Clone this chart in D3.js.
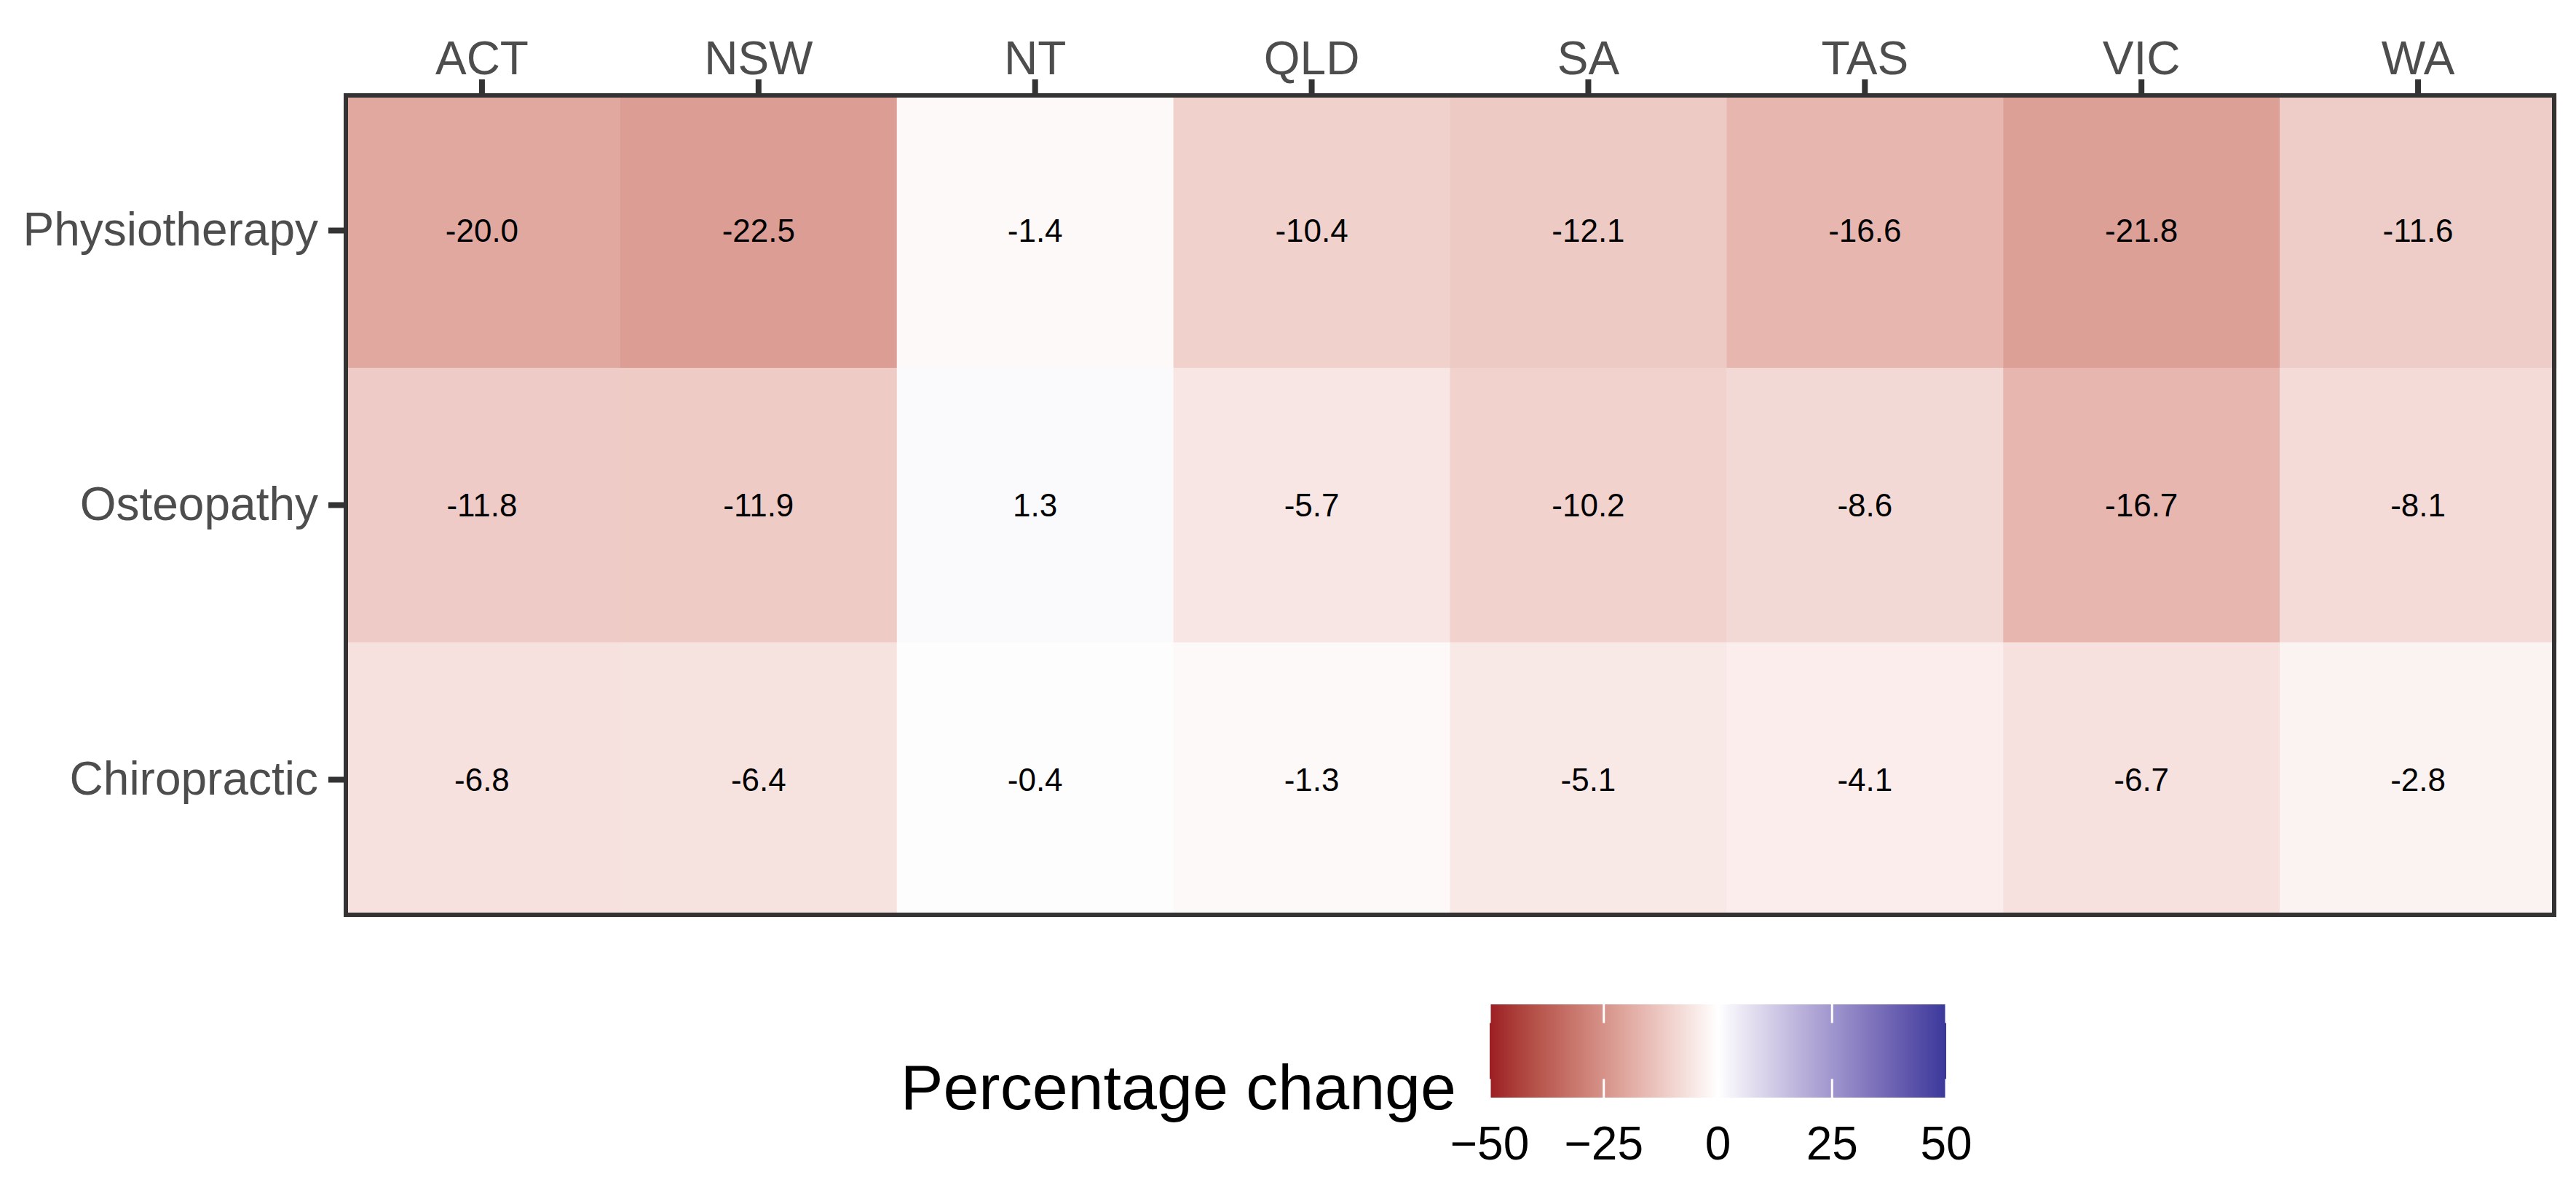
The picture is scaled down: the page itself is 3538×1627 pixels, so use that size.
<!DOCTYPE html>
<html lang="en">
<head>
  <meta charset="UTF-8">
  <title>heatmap</title>
  <script src="https://d3js.org/d3.v7.min.js" charset="utf-8"></script>
  <style>
    body { margin: 0; background: #fff; }
    text { font-family: "Liberation Sans", Arial, sans-serif; }
  </style>
</head>
<body>
</body>
<script>
  var states = ['ACT', 'NSW', 'NT', 'QLD', 'SA', 'TAS', 'VIC', 'WA']
  var professions = ['Physiotherapy', 'Osteopathy', 'Chiropractic']
  var physiotherapy = [-20.0, -22.5, -1.4, -10.4, -12.1, -16.6, -21.8, -11.6]
  var osteopathy = [-11.8, -11.9, 1.3, -5.7, -10.2, -8.6, -16.7, -8.1]
  var chiropractic = [-6.8, -6.4, -0.4, -1.3, -5.1, -4.1, -6.7, -2.8]
  var legendBreaks = [-50, -25, 0, 25, 50]
  var legendTitle = 'Percentage change'

  var series = [physiotherapy, osteopathy, chiropractic]
  var cells = []
  professions.forEach(function(p, i) {
    states.forEach(function(s, j) {
      cells.push({ state: s, profession: p, value: series[i][j] })
    })
  })

  var W = 3538, H = 1627
  var pLeft = 472, pRight = 3511, pTop = 128, pBottom = 1259

  var svg = d3.select('body').append('svg').attr('width', W).attr('height', H)
  svg.append('rect').attr('width', W).attr('height', H).attr('fill', '#fff')

  var x = d3.scaleBand().domain(states).range([pLeft, pRight])
  var y = d3.scaleBand().domain(professions).range([pTop, pBottom])

  var lowCol = '#9c1e23', highCol = '#3a389b'
  var neg = d3.scaleLinear().domain([-50, 0]).range([lowCol, '#ffffff']).interpolate(d3.interpolateLab)
  var pos = d3.scaleLinear().domain([0, 50]).range(['#ffffff', highCol]).interpolate(d3.interpolateLab)
  var color = function(v) { return v < 0 ? neg(v) : pos(v) }

  svg.append('g').selectAll('rect').data(cells).enter().append('rect')
  .attr('x', d => x(d.state))
  .attr('y', d => y(d.profession))
  .attr('width', x.bandwidth() + 0.5)
  .attr('height', y.bandwidth() + 0.5)
  .attr('fill', d => color(d.value))

  svg.append('g').selectAll('text').data(cells).enter().append('text')
  .attr('x', d => x(d.state) + x.bandwidth() / 2)
  .attr('y', d => y(d.profession) + y.bandwidth() / 2)
  .attr('text-anchor', 'middle')
  .attr('dominant-baseline', 'central')
  .attr('font-size', 44)
  .attr('fill', '#000')
  .text(d => d3.format('.1f')(d.value).replace('−', '-'))

  // panel border
  svg.append('rect')
  .attr('x', pLeft + 3).attr('y', pTop + 3)
  .attr('width', pRight - pLeft - 6).attr('height', pBottom - pTop - 6)
  .attr('fill', 'none').attr('stroke', '#333333').attr('stroke-width', 6)

  var xAxis = svg.append('g').attr('transform', 'translate(0,' + pTop + ')')
  .call(d3.axisTop(x).tickSize(19).tickPadding(7))
  var yAxis = svg.append('g').attr('transform', 'translate(' + pLeft + ',0)')
  .call(d3.axisLeft(y).tickSize(21).tickPadding(14))
  ;[xAxis, yAxis].forEach(function(a) {
    a.select('.domain').remove()
    a.selectAll('.tick line').attr('stroke', '#333333').attr('stroke-width', 8)
    a.selectAll('.tick text').attr('font-size', 64).attr('fill', '#4d4d4d')
      .attr('font-family', '"Liberation Sans", Arial, sans-serif')
  })

  // legend
  var lx0 = 2046, lx1 = 2673, ly0 = 1379, ly1 = 1507
  var lscale = d3.scaleLinear().domain([-50, 50]).range([lx0, lx1])
  var grad = svg.append('defs').append('linearGradient').attr('id', 'lg')
  d3.range(-50, 51, 5).forEach(function(v) {
    grad.append('stop').attr('offset', ((v + 50) / 100 * 100) + '%').attr('stop-color', color(v))
  })
  svg.append('rect').attr('x', lx0).attr('y', ly0).attr('width', lx1 - lx0).attr('height', ly1 - ly0)
  .attr('fill', 'url(#lg)')
  var tl = (ly1 - ly0) / 5
  svg.append('g').selectAll('line').data(legendBreaks.concat(legendBreaks)).enter().append('line')
  .attr('x1', d => lscale(d)).attr('x2', d => lscale(d))
  .attr('y1', (d, i) => i < 5 ? ly0 : ly1 - tl)
  .attr('y2', (d, i) => i < 5 ? ly0 + tl : ly1)
  .attr('stroke', '#fff').attr('stroke-width', 3)

  svg.append('g').selectAll('text').data(legendBreaks).enter().append('text')
  .attr('x', d => lscale(d)).attr('y', 1592)
  .attr('text-anchor', 'middle').attr('font-size', 64).attr('fill', '#000')
  .text(d => d3.format('d')(d))

  svg.append('text').attr('x', 2000).attr('y', 1523)
  .attr('text-anchor', 'end').attr('font-size', 88).attr('fill', '#000')
  .text(legendTitle)
</script>
</html>
